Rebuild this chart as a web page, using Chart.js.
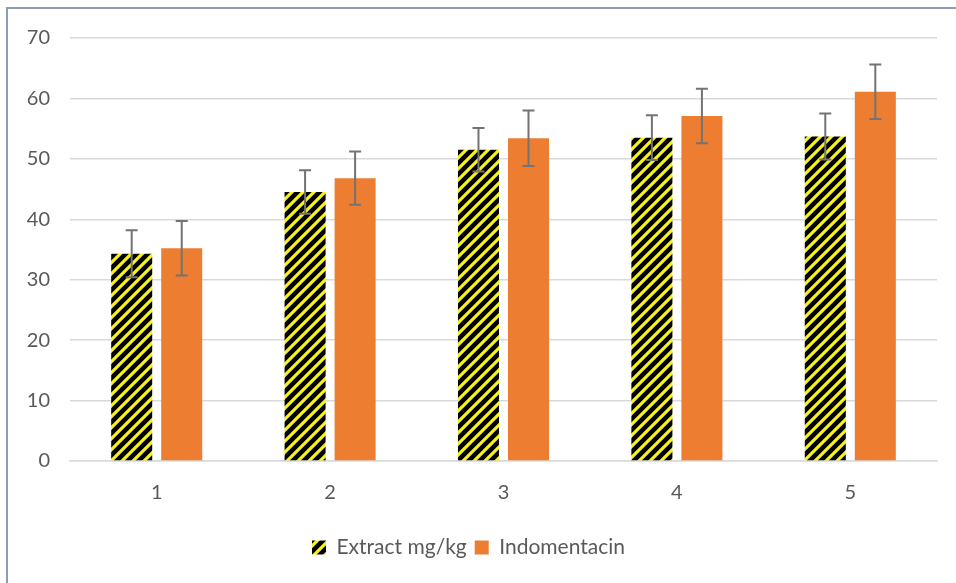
<!DOCTYPE html>
<html>
<head>
<meta charset="utf-8">
<script src="https://cdn.jsdelivr.net/npm/chart.js@4"></script>
<style>
  html, body { margin: 0; padding: 0; background: #fff; }
  #wrap { position: relative; width: 956px; height: 583px; overflow: hidden; }
  #frame { position: absolute; left: 6px; top: 7px; width: 1000px; height: 1000px;
           border-left: 2px solid #8a9cb8; border-top: 2px solid #8a9cb8; }
  canvas { position: absolute; left: 0; top: 0; }
</style>
</head>
<body>
<div id="wrap">
  <div id="frame"></div>
  <canvas id="chart" width="956" height="583"></canvas>
</div>
<script>
var categories = ["1", "2", "3", "4", "5"];
var extractValues = [34.3, 44.5, 51.5, 53.5, 53.7];
var extractErrors = [3.9, 3.6, 3.6, 3.7, 3.8];
var indoValues = [35.2, 46.8, 53.4, 57.1, 61.1];
var indoErrors = [4.5, 4.4, 4.6, 4.5, 4.5];

// black bars with yellow diagonal stripes
function makeStripes() {
  var c = document.createElement("canvas");
  c.width = 11; c.height = 11;
  var g = c.getContext("2d");
  g.fillStyle = "#000";
  g.fillRect(0, 0, 11, 11);
  g.strokeStyle = "#f5f21e";
  g.lineWidth = 3.2;
  g.beginPath();
  g.moveTo(-2, 13); g.lineTo(13, -2);
  g.moveTo(-8, 8); g.lineTo(8, -8);
  g.moveTo(3, 19); g.lineTo(19, 3);
  g.stroke();
  return g.createPattern(c, "repeat");
}

var errorBars = {
  id: "errorBars",
  afterDatasetsDraw: function (chart) {
    var ctx = chart.ctx;
    var y = chart.scales.y;
    ctx.save();
    ctx.strokeStyle = "#737373";
    ctx.lineWidth = 2;
    chart.data.datasets.forEach(function (ds, i) {
      var meta = chart.getDatasetMeta(i);
      meta.data.forEach(function (bar, j) {
        var top = y.getPixelForValue(ds.data[j] + ds.errors[j]);
        var bot = y.getPixelForValue(ds.data[j] - ds.errors[j]);
        var x = bar.x;
        ctx.beginPath();
        ctx.moveTo(x, top); ctx.lineTo(x, bot);
        ctx.moveTo(x - 6, top); ctx.lineTo(x + 6, top);
        ctx.moveTo(x - 6, bot); ctx.lineTo(x + 6, bot);
        ctx.stroke();
      });
    });
    ctx.restore();
  }
};

var tickFont = { family: "Lato, 'Open Sans', sans-serif", size: 20 };
var legendFont = { family: "Lato, 'Open Sans', sans-serif", size: 21 };

new Chart(document.getElementById("chart"), {
  type: "bar",
  data: {
    labels: categories,
    datasets: [
      {
        label: "Extract mg/kg",
        data: extractValues,
        errors: extractErrors,
        backgroundColor: makeStripes(),
        barPercentage: 0.82,
        categoryPercentage: 0.577
      },
      {
        label: "Indomentacin",
        data: indoValues,
        errors: indoErrors,
        backgroundColor: "#ed7d31",
        barPercentage: 0.82,
        categoryPercentage: 0.577
      }
    ]
  },
  options: {
    responsive: false,
    animation: false,
    layout: { padding: { left: 0, top: 38, right: 19, bottom: 15 } },
    scales: {
      x: {
        afterFit: function (s) { s.height = 68; },
        grid: { display: false },
        border: { color: "#d9d9d9", width: 1.5 },
        ticks: { color: "#595959", font: tickFont, padding: 12 }
      },
      y: {
        min: 0, max: 70,
        afterFit: function (s) { s.width = 70; },
        grid: { color: "#d9d9d9", lineWidth: 1.5, drawTicks: false },
        border: { display: false },
        ticks: { stepSize: 10, color: "#595959", font: tickFont, padding: 20 }
      }
    },
    plugins: {
      legend: {
        position: "bottom",
        labels: { color: "#595959", font: legendFont, boxWidth: 14, boxHeight: 14, padding: 8 }
      },
      tooltip: { enabled: false }
    }
  },
  plugins: [errorBars]
});
</script>
</body>
</html>
